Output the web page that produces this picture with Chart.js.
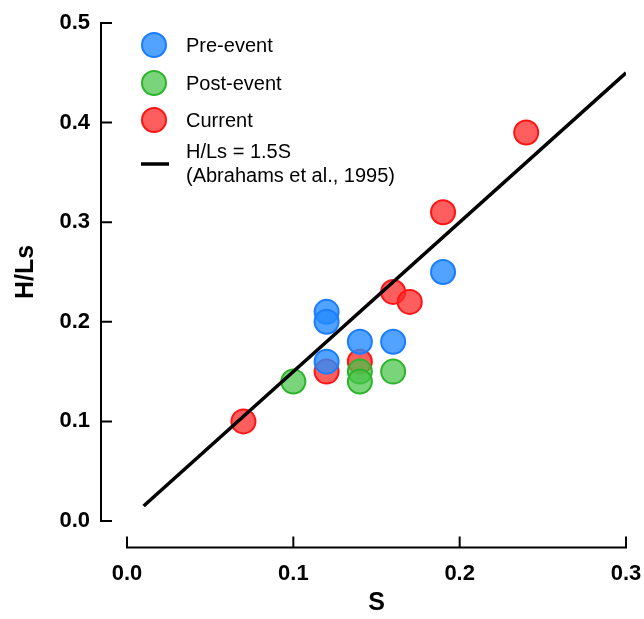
<!DOCTYPE html>
<html lang="en">
<head>
    <meta charset="UTF-8">
    <title>H/Ls vs S</title>
    <script src="https://cdn.jsdelivr.net/npm/chart.js"></script>
    <style>
        body { margin: 0; background: #fff; }
        #wrap { position: relative; width: 644px; height: 619px; }
    </style>
</head>
<body>
    <div id="wrap">
        <canvas id="slopeChart"></canvas>
    </div>

    <script>
        // values
        const preEventS = [0.12, 0.12, 0.12, 0.14, 0.16, 0.19];
        const preEventH = [0.21, 0.20, 0.16, 0.18, 0.18, 0.25];
        const postEventS = [0.10, 0.14, 0.14, 0.16];
        const postEventH = [0.14, 0.15, 0.14, 0.15];
        const currentS = [0.07, 0.12, 0.14, 0.16, 0.17, 0.19, 0.24];
        const currentH = [0.10, 0.15, 0.16, 0.23, 0.22, 0.31, 0.39];
        const fitS = [0.01, 0.3];          // H/Ls = 1.5S
        const fitSlope = 1.5;
        const xTicks = [0, 0.1, 0.2, 0.3];
        const yTicks = [0, 0.1, 0.2, 0.3, 0.4, 0.5];

        const toPoints = (xs, ys) => xs.map((x, i) => ({ x: x, y: ys[i] }));

        const font = 'Liberation Sans, Arial, sans-serif';

        // detached axes with inward ticks, drawn from the chart's own scales
        const axisPlugin = {
            id: 'detachedAxes',
            afterDraw(chart) {
                const ctx = chart.ctx;
                const xs = chart.scales.x, ys = chart.scales.y;
                const axX = 101, axY = 547.5, tick = 11;
                ctx.save();
                ctx.strokeStyle = '#000';
                ctx.lineWidth = 2;
                ctx.lineCap = 'butt';
                ctx.beginPath();
                ctx.moveTo(axX, ys.getPixelForValue(0.5));
                ctx.lineTo(axX, ys.getPixelForValue(0));
                yTicks.forEach(v => {
                    const p = ys.getPixelForValue(v);
                    ctx.moveTo(axX - 1, p);
                    ctx.lineTo(axX + tick, p);
                });
                ctx.moveTo(xs.getPixelForValue(0), axY);
                ctx.lineTo(xs.getPixelForValue(0.3), axY);
                xTicks.forEach(v => {
                    const p = xs.getPixelForValue(v);
                    ctx.moveTo(p, axY + 1);
                    ctx.lineTo(p, axY - tick);
                });
                ctx.stroke();
                ctx.restore();
            }
        };

        // legend in the top-left corner
        const legendPlugin = {
            id: 'cornerLegend',
            afterDraw(chart) {
                const ctx = chart.ctx;
                const ds = chart.data.datasets;
                const rows = [
                    { set: ds[0], y: 45 },
                    { set: ds[1], y: 83 },
                    { set: ds[2], y: 120 }
                ];
                ctx.save();
                ctx.font = '20px ' + font;
                ctx.textBaseline = 'middle';
                ctx.fillStyle = '#000';
                rows.forEach(r => {
                    ctx.beginPath();
                    ctx.arc(154, r.y, 12, 0, Math.PI * 2);
                    ctx.fillStyle = r.set.backgroundColor;
                    ctx.fill();
                    ctx.lineWidth = 2;
                    ctx.strokeStyle = r.set.borderColor;
                    ctx.stroke();
                    ctx.fillStyle = '#000';
                    ctx.fillText(r.set.label, 186, r.y + 1);
                });
                ctx.beginPath();
                ctx.moveTo(141, 164);
                ctx.lineTo(169, 164);
                ctx.lineWidth = 3.5;
                ctx.strokeStyle = '#000';
                ctx.stroke();
                ctx.fillText('H/Ls = 1.5S', 186, 152);
                ctx.fillText('(Abrahams et al., 1995)', 186, 176);
                ctx.restore();
            }
        };

        const ctx = document.getElementById('slopeChart').getContext('2d');
        new Chart(ctx, {
            type: 'scatter',
            data: {
                datasets: [
                    {
                        label: 'Pre-event',
                        data: toPoints(preEventS, preEventH),
                        backgroundColor: 'rgba(38, 140, 255, 0.8)',
                        borderColor: '#1a7dff',
                        borderWidth: 2,
                        pointRadius: 12,
                        order: 2
                    },
                    {
                        label: 'Post-event',
                        data: toPoints(postEventS, postEventH),
                        backgroundColor: 'rgba(70, 195, 70, 0.72)',
                        borderColor: '#2bb52b',
                        borderWidth: 2,
                        pointRadius: 12,
                        order: 1
                    },
                    {
                        label: 'Current',
                        data: toPoints(currentS, currentH),
                        backgroundColor: 'rgba(255, 40, 40, 0.75)',
                        borderColor: '#ff1414',
                        borderWidth: 2,
                        pointRadius: 12,
                        order: 3
                    },
                    {
                        type: 'line',
                        label: 'H/Ls = 1.5S',
                        data: fitS.map(s => ({ x: s, y: fitSlope * s })),
                        borderColor: '#000',
                        borderWidth: 3.5,
                        pointRadius: 0,
                        fill: false,
                        order: 0
                    }
                ]
            },
            options: {
                responsive: true,
                maintainAspectRatio: false,
                animation: false,
                layout: { padding: { top: 23, right: 18, left: 0, bottom: 0 } },
                plugins: {
                    legend: { display: false },
                    tooltip: { enabled: false }
                },
                scales: {
                    x: {
                        type: 'linear',
                        min: 0,
                        max: 0.3,
                        afterFit(scale) {
                            scale.height = 98;
                            scale.paddingLeft = 0;
                            scale.paddingRight = 0;
                        },
                        afterBuildTicks(scale) { scale.ticks = xTicks.map(v => ({ value: v })); },
                        grid: { display: false, drawTicks: false },
                        border: { display: false },
                        ticks: {
                            padding: 40,
                            color: '#000',
                            font: { family: font, size: 22, weight: 'bold' },
                            callback: v => v.toFixed(1)
                        },
                        title: {
                            display: true,
                            text: 'S',
                            color: '#000',
                            padding: { top: 0, bottom: 1 },
                            font: { family: font, size: 25, weight: 'bold' }
                        }
                    },
                    y: {
                        type: 'linear',
                        min: 0,
                        max: 0.5,
                        afterFit(scale) {
                            scale.width = 127;
                            scale.paddingTop = 0;
                            scale.paddingBottom = 0;
                        },
                        afterBuildTicks(scale) { scale.ticks = yTicks.map(v => ({ value: v })); },
                        grid: { display: false, drawTicks: false },
                        border: { display: false },
                        ticks: {
                            padding: 37,
                            color: '#000',
                            font: { family: font, size: 22, weight: 'bold' },
                            callback: v => v.toFixed(1)
                        },
                        title: {
                            display: true,
                            text: 'H/Ls',
                            color: '#000',
                            padding: { top: 11, bottom: 0 },
                            font: { family: font, size: 25, weight: 'bold' }
                        }
                    }
                }
            },
            plugins: [axisPlugin, legendPlugin]
        });
    </script>
</body>
</html>
